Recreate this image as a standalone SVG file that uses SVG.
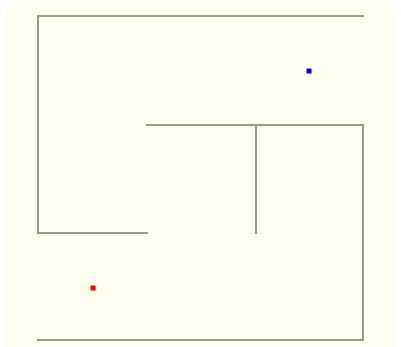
<svg xmlns="http://www.w3.org/2000/svg" width="401" height="347" viewBox="0 0 401 347">
<style>
.w{stroke:#9a9a8a;stroke-width:2;fill:none;stroke-linecap:square}
</style>
<rect x="0" y="0" width="401" height="347" fill="#ffffff"/>
<rect x="6" y="5" width="390" height="342" fill="#fffff0"/>
<g id="walls">
<polyline class="w" points="363,16 38,16 38,233 147,233"/>
<polyline class="w" points="147,125 363,125 363,340 38,340"/>
<line class="w" x1="256" y1="125" x2="256" y2="233"/>
</g>
<g id="start"><rect x="306.5" y="68.5" width="5" height="5" fill="#0000ff"/></g>
<g id="goal"><rect x="90.5" y="285.5" width="5" height="5" fill="#ff0000"/></g>
</svg>
